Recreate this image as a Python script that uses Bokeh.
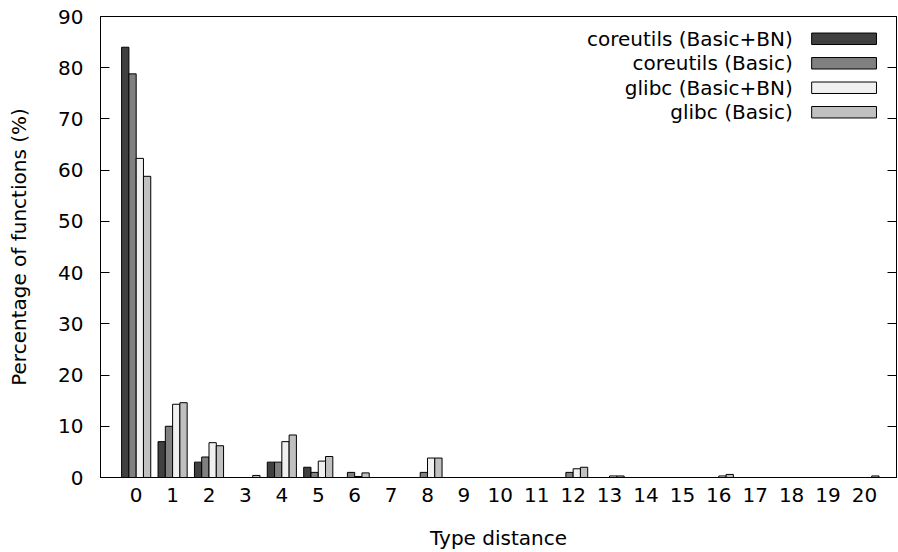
from bokeh.plotting import figure
from bokeh.models import ColumnDataSource, Range1d, FixedTicker, LinearAxis, Label, BoxAnnotation
from bokeh.transform import dodge
from bokeh.embed import file_html
from bokeh.resources import INLINE

distances = list(range(21))
tick_labels = [str(d) for d in distances]
coreutils_bn = [84, 7, 3, 0, 3, 2, 0, 0, 0, 0, 0, 0, 0, 0, 0, 0, 0, 0, 0, 0, 0]
coreutils_basic = [78.8, 10, 4, 0, 3, 1, 1, 0, 1, 0, 0, 0, 1, 0, 0, 0, 0, 0, 0, 0, 0]
glibc_bn = [62.3, 14.3, 6.8, 0, 7, 3.2, 0.2, 0, 3.8, 0, 0, 0, 1.7, 0.3, 0, 0, 0.3, 0, 0, 0, 0]
glibc_basic = [58.8, 14.6, 6.2, 0.4, 8.3, 4.1, 0.9, 0, 3.8, 0, 0, 0, 2.0, 0.3, 0, 0, 0.6, 0, 0, 0, 0.3]
series_names = ["coreutils (Basic+BN)", "coreutils (Basic)", "glibc (Basic+BN)", "glibc (Basic)"]
series_cols = ["cbn", "cb", "gbn", "gb"]
series_colors = ["#404040", "#808080", "#f0f0f0", "#c0c0c0"]

source = ColumnDataSource(dict(x=distances, cbn=coreutils_bn, cb=coreutils_basic,
                               gbn=glibc_bn, gb=glibc_basic))

FONT = "DejaVu Sans"
FS = "20px"

p = figure(width=898, height=552, output_backend="svg", toolbar_location=None,
           x_range=Range1d(-0.98, 20.88), y_range=Range1d(0, 90),
           min_border_left=100, min_border_right=2, min_border_top=16, min_border_bottom=75)
p.background_fill_color = "white"
p.border_fill_color = "white"
p.outline_line_color = "black"
p.outline_line_width = 1
p.xgrid.visible = False
p.ygrid.visible = False

offsets = [-0.3, -0.1, 0.1, 0.3]
for col, color, off in zip(series_cols, series_colors, offsets):
    p.vbar(x=dodge("x", off, range=p.x_range), top=col, width=0.2, bottom=0,
           source=source, fill_color=color, line_color="black", line_width=1)

# x axis
xa = p.xaxis[0]
xa.ticker = FixedTicker(ticks=distances)
xa.major_label_overrides = {d: lbl for d, lbl in zip(distances, tick_labels)}
xa.major_tick_in = 0
xa.major_tick_out = 0
xa.minor_tick_line_color = None
xa.axis_label = "Type distance"
xa.axis_label_text_font = FONT
xa.axis_label_text_font_size = FS
xa.axis_label_text_font_style = "normal"
xa.axis_label_text_color = "black"
xa.major_label_text_font = FONT
xa.major_label_text_font_size = FS
xa.major_label_text_color = "black"
xa.major_label_standoff = 10
xa.axis_label_standoff = 21
xa.axis_line_color = "black"

# y axis
ya = p.yaxis[0]
ya.ticker = FixedTicker(ticks=list(range(0, 91, 10)))
ya.major_tick_in = 9
ya.major_tick_out = 0
ya.minor_tick_line_color = None
ya.major_tick_line_color = "black"
ya.axis_label = "Percentage of functions (%)"
ya.axis_label_text_font = FONT
ya.axis_label_text_font_size = FS
ya.axis_label_text_font_style = "normal"
ya.axis_label_text_color = "black"
ya.major_label_text_font = FONT
ya.major_label_text_font_size = FS
ya.major_label_text_color = "black"
ya.major_label_standoff = 17
ya.axis_label_standoff = 24
ya.axis_line_color = "black"

# mirrored right ticks (no labels)
ra = LinearAxis(ticker=FixedTicker(ticks=list(range(0, 91, 10))))
ra.major_tick_in = 9
ra.major_tick_out = 0
ra.minor_tick_line_color = None
ra.major_label_overrides = {t: "" for t in range(0, 91, 10)}
ra.major_label_text_color = None
ra.major_label_standoff = 0
ra.axis_line_color = "black"
p.add_layout(ra, "right")

# legend (text right-aligned, swatch to the right)
leg_y0 = 85.65
leg_step = 4.78
for i, (name, color) in enumerate(zip(series_names, series_colors)):
    yy = leg_y0 - i * leg_step
    p.add_layout(Label(x=18.03, y=yy, text=name, text_align="right", text_baseline="middle",
                       text_font=FONT, text_font_size=FS, text_color="black"))
    p.add_layout(BoxAnnotation(left=18.55, right=20.33, bottom=yy - 1.12, top=yy + 1.12,
                               fill_color=color, fill_alpha=1.0, line_color="black",
                               line_width=1, line_alpha=1.0))

open("out.html", "w").write(file_html(p, INLINE))
